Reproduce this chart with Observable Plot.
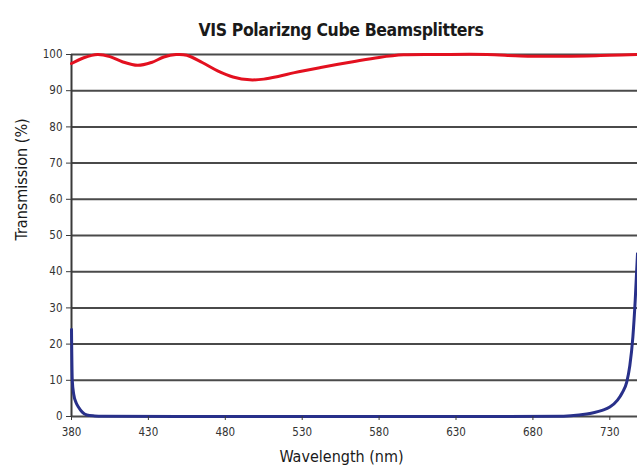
<!DOCTYPE html>
<html>
<head>
<meta charset="utf-8">
<script src="https://cdn.jsdelivr.net/npm/d3@7"></script>
<script src="https://cdn.jsdelivr.net/npm/@observablehq/plot@0.6"></script>
<style>
  html, body { margin: 0; padding: 0; background: #fff; }
  #wrap { position: relative; width: 637px; height: 470px; overflow: hidden; }
  #title { position: absolute; left: 0; top: 0; width: 682px; height: 44px; text-align: center;
    font-family: "DejaVu Sans Condensed", "Liberation Sans Narrow", sans-serif; font-weight: bold;
    font-size: 17.5px; letter-spacing: -0.4px; line-height: 44px; color: #1a1a1a; padding-top: 8px; box-sizing: border-box; }
  #chart { position: absolute; left: 0; top: 44px; }
</style>
</head>
<body>
<div id="wrap">
  <div id="title">VIS Polarizng Cube Beamsplitters</div>
  <div id="chart"></div>
</div>
<script>
const xTicks = [380, 430, 480, 530, 580, 630, 680, 730];
const yTicks = [0, 10, 20, 30, 40, 50, 60, 70, 80, 90, 100];

const redWl  = [380, 388, 397, 405, 413, 423, 432, 440, 448, 455, 465, 475, 485, 496, 505, 515, 525, 542, 563, 580, 596, 620, 650, 672, 695, 715, 730, 748];
const redT   = [97.5, 99.1, 100, 99.4, 98.0, 97.0, 97.8, 99.3, 100, 99.8, 97.8, 95.5, 93.8, 93.0, 93.2, 94.0, 95.0, 96.4, 98.0, 99.2, 99.9, 100, 100, 99.6, 99.5, 99.6, 99.8, 100];

const blueWl = [380, 380.5, 381.5, 383, 384.5, 387, 390, 395, 400, 450, 550, 650, 700, 710, 715, 720, 725, 730, 735, 738, 741, 743, 745, 746.5, 748];
const blueT  = [24, 10, 6, 3.8, 2.6, 1.2, 0.4, 0.15, 0.05, 0, 0, 0, 0.1, 0.4, 0.7, 1.1, 1.7, 2.6, 4.5, 6.5, 9.5, 14, 22, 32, 45];

const red = redWl.map((w, i) => ({w, t: redT[i]}));
const blue = blueWl.map((w, i) => ({w, t: blueT[i]}));

const font = '"DejaVu Sans Condensed", "Liberation Sans Narrow", sans-serif';

const chart = Plot.plot({
  width: 637,
  height: 426,
  marginLeft: 71,
  marginRight: 0,
  marginTop: 10,
  marginBottom: 54,
  style: { fontFamily: font, fontSize: "11.5px", color: "#333", background: "#fff", overflow: "visible" },
  x: { domain: [380, 748], label: null },
  y: { domain: [0, 100], label: null },
  marks: [
    Plot.ruleY(yTicks, { stroke: "#4a4a4a", strokeWidth: 2 }),
    Plot.ruleX([380], { stroke: "#3a3a3a", strokeWidth: 2 }),
    Plot.line(red, { x: "w", y: "t", stroke: "#e3101f", strokeWidth: 3, curve: "catmull-rom" }),
    Plot.line(blue, { x: "w", y: "t", stroke: "#28308a", strokeWidth: 3, curve: "monotone-x" }),
    Plot.axisY({ ticks: yTicks, tickSize: 5, tickPadding: 4, tickFormat: d => String(d), label: null, stroke: "#3a3a3a" }),
    Plot.axisX({ ticks: xTicks, tickSize: 4, tickPadding: 7, tickFormat: d => String(d), label: null, stroke: "#3a3a3a" }),
    Plot.text(["Transmission (%)"], { frameAnchor: "left", dx: -50, dy: 5, rotate: -90, fontSize: 16, fill: "#1a1a1a" }),
    Plot.text(["Wavelength (nm)"], { frameAnchor: "bottom", dx: -13, dy: 45, fontSize: 16, fill: "#1a1a1a" })
  ]
});
document.getElementById("chart").appendChild(chart);
</script>
</body>
</html>
